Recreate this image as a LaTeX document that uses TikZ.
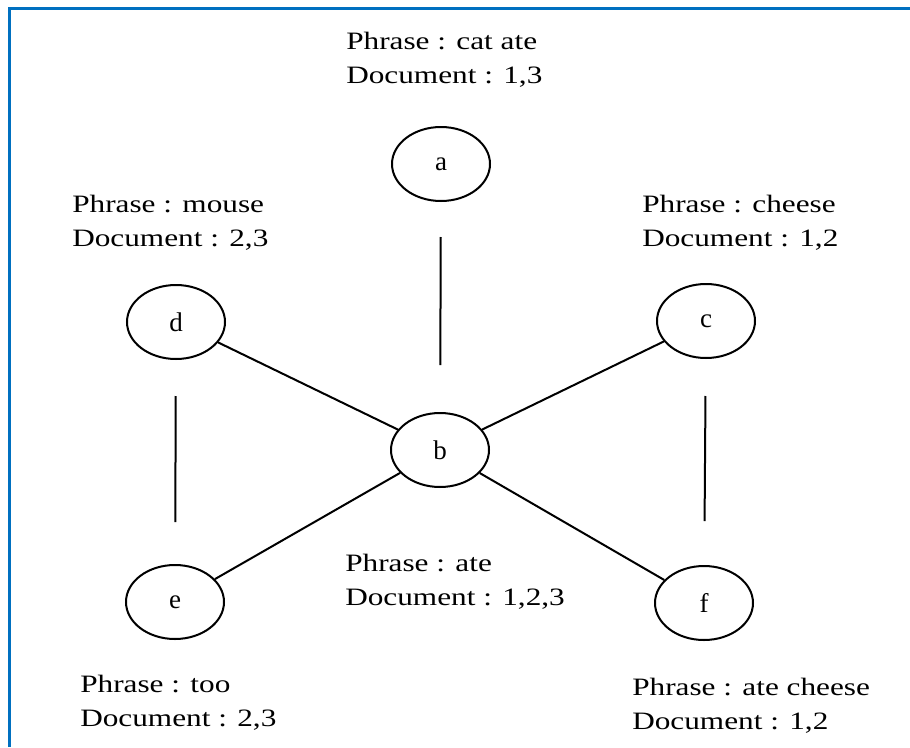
\documentclass[tikz,border=0pt]{standalone}
\usepackage{fontspec}
\setmainfont{Liberation Serif}
\usetikzlibrary{shapes.geometric}
\definecolor{frameblue}{RGB}{0, 112, 192}
\tikzset{
    vert/.style={draw, ellipse, line width=2pt, minimum width=98pt, minimum height=74pt,
        inner sep=0pt, font=\fontsize{27}{30}\selectfont},
    lbl/.style={anchor=base west, align=left, inner sep=0pt, xscale=1.25,
        font=\fontsize{25}{34}\selectfont},
    edge/.style={line width=2pt}
}
\begin{document}
\begin{tikzpicture}[x=1pt, y=-1pt] % pixel units, y down
			\useasboundingbox (0,0) rectangle (910,747);

			% Frame (left and top only)
			\draw[frameblue, line width=3pt] (9,747) -- (9,8) -- (910,8);

			% Vertices
			\node[vert] (a) at (441,164) {a};
			\node[vert] (b) at (440,450) {b};
			\node[vert] (c) at (706,321) {c};
			\node[vert] (d) at (176,322) {d};
			\node[vert] (e) at (175,602) {e};
			\node[vert] (f) at (704,603) {f};

			% Labels (anchored on the baseline of the last line)
			\node[lbl] (la) at (346,83) {Phrase : cat ate\\Document : 1,3};
			\node[lbl] (ld) at (72,246) {Phrase : mouse\\Document : 2,3};
			\node[lbl] (lc) at (642,246) {Phrase : cheese\\Document : 1,2};
			\node[lbl] (lb) at (345,605) {Phrase : ate\\Document : 1,2,3};
			\node[lbl] (le) at (80,726) {Phrase : too\\Document : 2,3};
			\node[lbl] (lf) at (632,729) {Phrase : ate cheese\\Document : 1,2};

			% Edges
			\draw[edge, shorten <=35pt, shorten >=47pt] (a) -- (b);
			\draw[edge, shorten <=36pt, shorten >=42pt] (d) -- (e);
			\draw[edge, shorten <=37pt, shorten >=44pt] (c) -- (f);
			\draw[edge] (d) -- (b);
			\draw[edge] (e) -- (b);
			\draw[edge] (b) -- (c);
			\draw[edge] (b) -- (f);
		\end{tikzpicture}
\end{document}
